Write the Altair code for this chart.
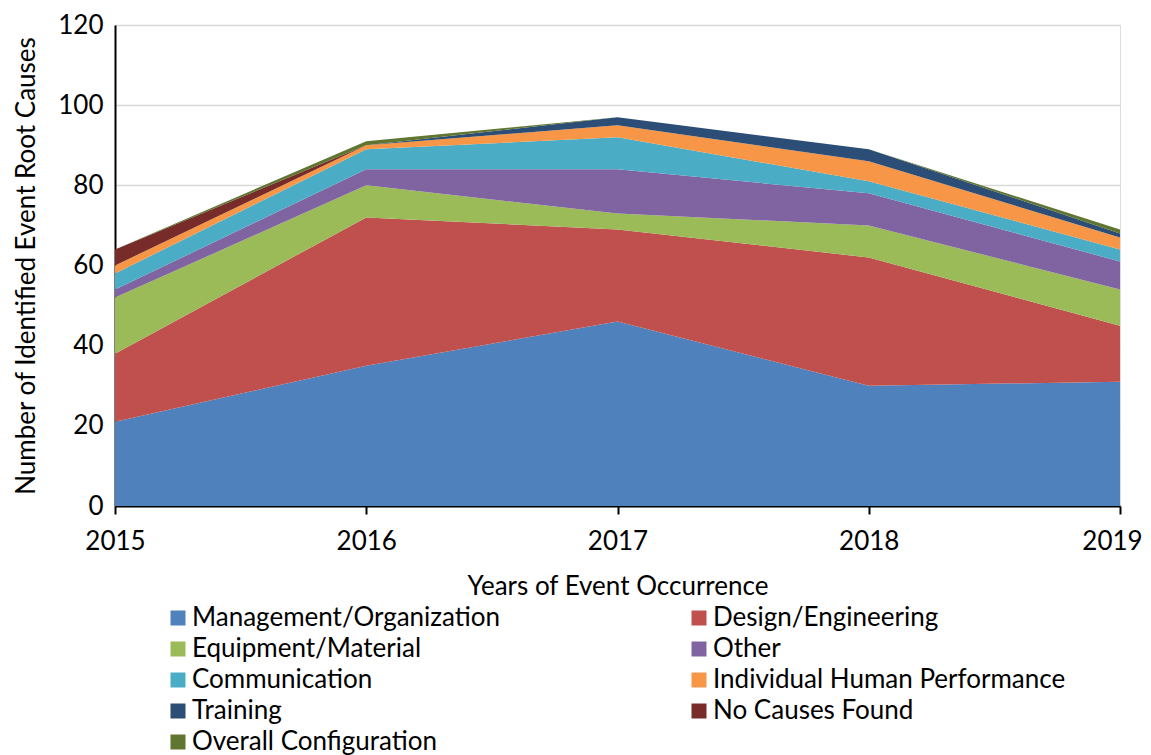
import altair as alt
import pandas as pd

years = [2015, 2016, 2017, 2018, 2019]
categories = [
    "Management/Organization",
    "Design/Engineering",
    "Equipment/Material",
    "Other",
    "Communication",
    "Individual Human Performance",
    "Training",
    "No Causes Found",
    "Overall Configuration",
]
colors = ["#4F81BD", "#C0504D", "#9BBB59", "#8064A2", "#4BACC6",
          "#F79646", "#2C4D75", "#772C2A", "#5F7530"]

management = [21, 35, 46, 30, 31]
design = [17, 37, 23, 32, 14]
equipment = [14, 8, 4, 8, 9]
other = [2, 4, 11, 8, 7]
communication = [4, 5, 8, 3, 3]
individual = [2, 1, 3, 5, 3]
training = [0, 0, 2, 3, 1]
no_causes = [4, 0, 0, 0, 0]
overall = [0, 1, 0, 0, 1]

series = [management, design, equipment, other, communication,
          individual, training, no_causes, overall]

rows = []
for i, (cat, vals) in enumerate(zip(categories, series)):
    for y, v in zip(years, vals):
        rows.append({"Year": y, "Category": cat, "Value": v, "order": i})
df = pd.DataFrame(rows)

FONT = "Lato"
FS = 26

chart = alt.Chart(df).mark_area(opacity=1).encode(
    x=alt.X("Year:Q",
            scale=alt.Scale(domain=[2015, 2019], nice=False, zero=False),
            axis=alt.Axis(values=years, format="d", title="Years of Event Occurrence",
                          grid=False, ticks=True, tickSize=8, tickColor="black",
                          tickWidth=2, domainColor="black", domainWidth=2,
                          labelFlush=False, labelOverlap=False,
                          labelOffset={"condition": {"test": "datum.value == 2019", "value": -8},
                                       "value": 0},
                          labelFontSize=FS, titleFontSize=FS, labelPadding=14,
                          titlePadding=19, labelColor="black", titleColor="black",
                          titleFontWeight="normal", labelFont=FONT, titleFont=FONT)),
    y=alt.Y("Value:Q", stack="zero",
            scale=alt.Scale(domain=[0, 120], nice=False),
            axis=alt.Axis(values=[0, 20, 40, 60, 80, 100, 120],
                          title="Number of Identified Event Root Causes",
                          grid=True, gridColor="#d9d9d9", gridWidth=1.5,
                          ticks=False, domainColor="black", domainWidth=2,
                          labelFontSize=FS, titleFontSize=FS, labelPadding=12,
                          titlePadding=18, labelColor="black", titleColor="black",
                          titleFontWeight="normal", labelFont=FONT, titleFont=FONT)),
    color=alt.Color("Category:N",
                    scale=alt.Scale(domain=categories, range=colors),
                    sort=categories,
                    legend=alt.Legend(title=None, orient="none", legendX=50, legendY=580,
                                      columns=2, direction="horizontal",
                                      symbolType="square", symbolSize=225,
                                      symbolStrokeWidth=0, symbolOpacity=1,
                                      labelFontSize=FS, labelFont=FONT,
                                      labelColor="black", labelLimit=600,
                                      columnPadding=185, rowPadding=5,
                                      labelOffset=1)),
    order=alt.Order("order:Q", sort="ascending"),
).properties(width=1005, height=481).configure_view(stroke=None).configure(
    padding={"left": 5, "top": 4, "right": 0, "bottom": 0}
)

chart.save("out.html", embed_options={"renderer": "svg", "actions": False})
